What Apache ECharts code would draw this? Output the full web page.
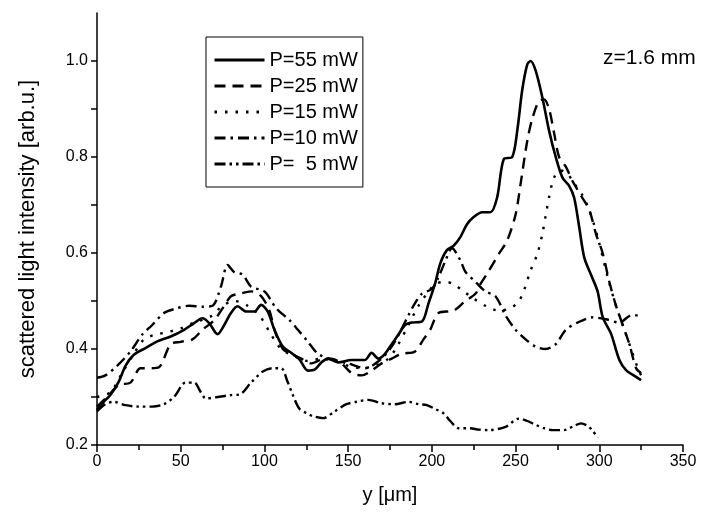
<!DOCTYPE html>
<html lang="en">
<head>
  <meta charset="UTF-8">
  <title>scattered light intensity</title>
  <script src="https://cdn.jsdelivr.net/npm/echarts@6/dist/echarts.min.js"></script>
  <style>
    body { margin: 0; background: #fff; }
  </style>
</head>
<body>
<div id="main" style="width:701px;height:513px;"></div>
<script>
  // series names (legend)
  var names = ['P=55 mW', 'P=25 mW', 'P=15 mW', 'P=10 mW', 'P=  5 mW'];

  // [y (um), intensity]
  var p55 = [[0,0.273],[4,0.29],[8,0.304],[13,0.332],[17,0.365],[22,0.388],[29,0.402],[36,0.416],[44,0.426],
    [52,0.44],[58,0.454],[63,0.464],[67,0.454],[72,0.431],[76,0.45],[80,0.475],[84,0.489],[89,0.478],[94,0.478],
    [98,0.492],[102,0.478],[106,0.44],[111,0.405],[116,0.392],[121,0.378],[126,0.355],[130,0.357],[134,0.372],
    [138,0.38],[144,0.372],[152,0.377],[160,0.377],[164,0.392],[168,0.38],[172,0.39],[176,0.41],[180,0.43],
    [184,0.45],[188,0.455],[194,0.457],[198,0.495],[202,0.537],[205,0.578],[209,0.606],[213,0.615],[217,0.633],
    [221,0.66],[225,0.675],[230,0.685],[235,0.685],[239,0.716],[243,0.796],[248,0.8],[251,0.855],[254,0.94],
    [257,0.993],[259,1.0],[262,0.98],[266,0.924],[270,0.855],[274,0.8],[278,0.757],[282,0.74],[285,0.715],
    [288,0.654],[291,0.591],[295,0.555],[299,0.52],[302,0.467],[307,0.432],[312,0.377],[316,0.356],[322,0.342],[325,0.335]];

  var p25 = [[0,0.28],[6,0.30],[13,0.325],[20,0.33],[26,0.36],[32,0.36],[37,0.362],[44,0.41],[50,0.415],
    [57,0.42],[63,0.44],[70,0.46],[76,0.49],[80,0.51],[85,0.515],[92,0.52],[98,0.51],[103,0.48],[106,0.44],
    [111,0.40],[116,0.39],[122,0.38],[128,0.37],[134,0.378],[140,0.38],[146,0.37],[152,0.35],[158,0.345],
    [164,0.355],[170,0.37],[176,0.38],[182,0.39],[190,0.395],[195,0.42],[199,0.44],[204,0.475],[213,0.48],
    [220,0.50],[226,0.515],[229,0.535],[233,0.557],[240,0.598],[245,0.626],[250,0.68],[253,0.744],[257,0.834],
    [260,0.88],[264,0.917],[267,0.92],[270,0.90],[273,0.85],[276,0.80],[280,0.78],[284,0.75],[289,0.72],
    [294,0.69],[298,0.64],[302,0.60],[306,0.54],[310,0.49],[314,0.45],[318,0.41],[322,0.36],[325,0.35]];

  var p15 = [[0,0.30],[8,0.31],[15,0.35],[22,0.39],[28,0.42],[35,0.43],[42,0.435],[50,0.443],[58,0.455],
    [68,0.468],[75,0.49],[82,0.50],[90,0.49],[97,0.47],[104,0.43],[110,0.40],[118,0.385],[126,0.375],
    [134,0.38],[142,0.375],[150,0.365],[158,0.36],[166,0.365],[174,0.38],[180,0.41],[186,0.45],[192,0.49],
    [197,0.515],[202,0.535],[208,0.54],[213,0.535],[219,0.52],[225,0.505],[232,0.49],[240,0.48],[247,0.485],
    [252,0.50],[255,0.522],[259,0.564],[263,0.598],[266,0.64],[268,0.678],[270,0.716],[273,0.757],[277,0.772],
    [281,0.765],[285,0.745],[290,0.72],[295,0.68],[300,0.62],[305,0.55],[310,0.49],[315,0.44],[319,0.40],
    [323,0.36],[325,0.345]];

  var p10 = [[0,0.34],[5,0.345],[12,0.365],[20,0.395],[27,0.43],[33,0.45],[40,0.475],[47,0.484],[55,0.49],
    [63,0.488],[69,0.49],[74,0.53],[78,0.575],[82,0.56],[87,0.555],[92,0.53],[100,0.52],[107,0.485],
    [115,0.46],[120,0.44],[126,0.415],[132,0.39],[140,0.378],[150,0.37],[160,0.36],[169,0.377],[177,0.41],
    [186,0.47],[189,0.49],[194,0.515],[200,0.525],[204,0.55],[208,0.583],[212,0.61],[217,0.585],[220,0.561],
    [226,0.54],[232,0.52],[238,0.51],[244,0.47],[250,0.44],[256,0.42],[262,0.405],[268,0.40],[274,0.41],
    [280,0.44],[287,0.455],[296,0.466],[304,0.462],[312,0.455],[319,0.47],[323,0.47]];

  var p5 = [[0,0.27],[5,0.285],[10,0.29],[17,0.283],[25,0.28],[33,0.28],[40,0.285],[46,0.30],[53,0.33],
    [58,0.33],[62,0.31],[65,0.297],[72,0.30],[80,0.304],[85,0.305],[92,0.33],[99,0.353],[105,0.36],[110,0.36],
    [114,0.33],[117,0.304],[121,0.275],[126,0.265],[129,0.26],[135,0.256],[142,0.27],[149,0.285],[155,0.29],
    [162,0.294],[170,0.287],[178,0.285],[186,0.29],[192,0.285],[197,0.283],[202,0.275],[207,0.266],[211,0.25],
    [216,0.235],[223,0.235],[228,0.232],[234,0.231],[244,0.238],[252,0.255],[257,0.25],[262,0.242],[267,0.235],
    [272,0.231],[279,0.231],[285,0.24],[289,0.245],[293,0.24],[296,0.23],[299,0.215]];

  // tick values on the intensity axis
  var yTicks = [0.2, 0.3, 0.4, 0.5, 0.6, 0.7, 0.8, 0.9, 1.0];
  var yLabels = [0.2, 0.4, 0.6, 0.8, 1.0];

  var font = 'Liberation Sans';
  var dashes = ['solid', [11, 7], [2.5, 8], [11, 5, 2.5, 5], [11, 4, 2.5, 4, 2.5, 4]];
  var allData = [p55, p25, p15, p10, p5];

  var series = [];
  for (var i = 0; i < allData.length; i++) {
    series.push({
      name: names[i],
      type: 'line',
      data: allData[i],
      smooth: 0.3,
      symbol: 'none',
      lineStyle: { color: '#000', width: i == 0 ? 2.6 : 2.4, type: dashes[i] },
      itemStyle: { color: '#000' }
    });
  }

  var myChart = echarts.init(document.getElementById('main'));

  var option = {
    animation: false,
    backgroundColor: '#fff',
    grid: { left: 97, right: 18, top: 13, bottom: 68 },
    legend: {
      orient: 'vertical',
      left: 206,
      top: 37,
      padding: [13, 5, 13, 7],
      itemGap: 6,
      itemWidth: 50,
      itemHeight: 14,
      borderColor: '#000',
      borderWidth: 1,
      itemStyle: { color: 'transparent', borderColor: 'transparent', borderWidth: 0 },
      lineStyle: { width: 3 },
      textStyle: { fontFamily: font, fontSize: 20, color: '#000' },
      data: names
    },
    xAxis: {
      type: 'value',
      min: 0,
      max: 350,
      interval: 50,
      name: 'y [\u03bcm]',
      nameLocation: 'middle',
      nameGap: 40,
      nameTextStyle: { fontFamily: font, fontSize: 20, color: '#000' },
      axisLine: { lineStyle: { color: '#000', width: 1.5 } },
      axisTick: { length: 7, lineStyle: { color: '#000', width: 1.5 } },
      minorTick: { show: true, splitNumber: 2, length: 5, lineStyle: { color: '#000', width: 1.5 } },
      axisLabel: { fontFamily: font, fontSize: 16, color: '#000', margin: 9 },
      splitLine: { show: false }
    },
    yAxis: {
      type: 'value',
      min: 0.2,
      max: 1.1,
      interval: 0.1,
      name: 'scattered light intensity [arb.u.]',
      nameLocation: 'middle',
      nameGap: 58,
      nameTextStyle: { fontFamily: font, fontSize: 22, color: '#000' },
      axisLine: { show: true, lineStyle: { color: '#000', width: 1.5 } },
      axisTick: { show: true, customValues: yTicks, length: 6, lineStyle: { color: '#000', width: 1.5 } },
      axisLabel: {
        customValues: yLabels,
        fontFamily: font, fontSize: 16, color: '#000', margin: 9,
        formatter: function (v) { return v.toFixed(1); }
      },
      splitLine: { show: false }
    },
    graphic: [{
      type: 'text',
      left: 603,
      top: 48,
      style: { text: 'z=1.6 mm', fontFamily: font, fontSize: 21, fill: '#000' }
    }],
    series: series
  };

  myChart.setOption(option);
</script>
</body>
</html>
